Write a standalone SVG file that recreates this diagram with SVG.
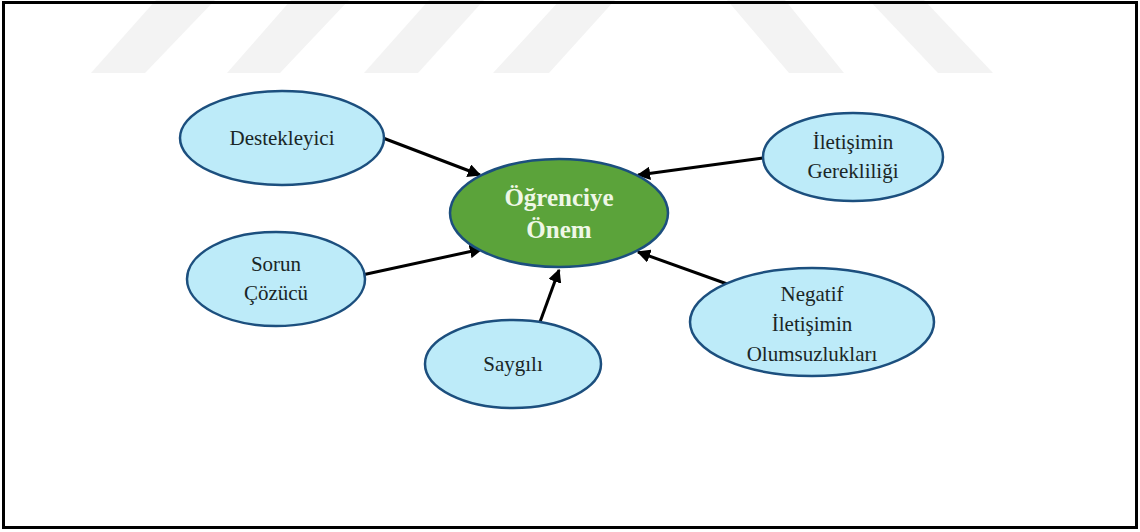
<svg xmlns="http://www.w3.org/2000/svg" width="1140" height="532" viewBox="0 0 1140 532">
<defs>
<style>
.wm{fill:#f3f3f3}
.node{fill:#bdebf9;stroke:#1c4f7e;stroke-width:2.5}
.main{fill:#5ba33a;stroke:#1c4f7e;stroke-width:2.5}
.lbl{font-family:"Liberation Serif","Times New Roman",serif;font-size:21px;fill:#1a2626;text-anchor:middle}
.mlbl{font-family:"Liberation Serif","Times New Roman",serif;font-size:25px;font-weight:bold;fill:#eef7e6;text-anchor:middle}
.con{stroke:#000;stroke-width:3;fill:none;marker-end:url(#ah)}
</style>
<marker id="ah" viewBox="0 0 10 10" refX="9" refY="5" markerWidth="4.5" markerHeight="4.5" orient="auto" markerUnits="strokeWidth">
<path d="M0,0 L10,5 L0,10 z" fill="#000"/>
</marker>
</defs>
<rect x="0" y="0" width="1140" height="532" fill="#fff"/>
<g id="watermark">
<polygon class="wm" points="156,0 215,0 145,73 91,73"/>
<polygon class="wm" points="291,0 349,0 280,73 227,73"/>
<polygon class="wm" points="429,0 484,0 418,73 364,73"/>
<polygon class="wm" points="560,0 615,0 549,73 493,73"/>
<polygon class="wm" points="727,0 785,0 844,73 789,73"/>
<polygon class="wm" points="869,0 924,0 993,73 938,73"/>
</g>
<rect x="3.5" y="2.5" width="1133" height="525" fill="none" stroke="#000" stroke-width="3"/>
<g id="connectors">
<line class="con" x1="383" y1="138" x2="480" y2="175"/>
<line class="con" x1="763" y1="158" x2="638" y2="175"/>
<line class="con" x1="362" y1="275" x2="482" y2="249"/>
<line class="con" x1="540" y1="322" x2="559" y2="270"/>
<line class="con" x1="730" y1="285" x2="638" y2="252"/>
</g>
<g id="n-center">
<ellipse class="main" cx="559" cy="213" rx="109" ry="54"/>
<text class="mlbl" x="559" y="206">Öğrenciye</text>
<text class="mlbl" x="559" y="238">Önem</text>
</g>
<g id="n-destekleyici">
<ellipse class="node" cx="282" cy="138" rx="102" ry="47"/>
<text class="lbl" x="282" y="145">Destekleyici</text>
</g>
<g id="n-iletisim">
<ellipse class="node" cx="853" cy="157" rx="90" ry="44"/>
<text class="lbl" x="853" y="149">İletişimin</text>
<text class="lbl" x="853" y="178">Gerekliliği</text>
</g>
<g id="n-sorun">
<ellipse class="node" cx="276" cy="279" rx="89" ry="47"/>
<text class="lbl" x="276" y="271">Sorun</text>
<text class="lbl" x="276" y="300">Çözücü</text>
</g>
<g id="n-saygili">
<ellipse class="node" cx="513" cy="364" rx="88" ry="44"/>
<text class="lbl" x="513" y="371">Saygılı</text>
</g>
<g id="n-negatif">
<ellipse class="node" cx="812" cy="322" rx="122" ry="54"/>
<text class="lbl" x="812" y="301">Negatif</text>
<text class="lbl" x="812" y="331">İletişimin</text>
<text class="lbl" x="812" y="361">Olumsuzlukları</text>
</g>
</svg>
